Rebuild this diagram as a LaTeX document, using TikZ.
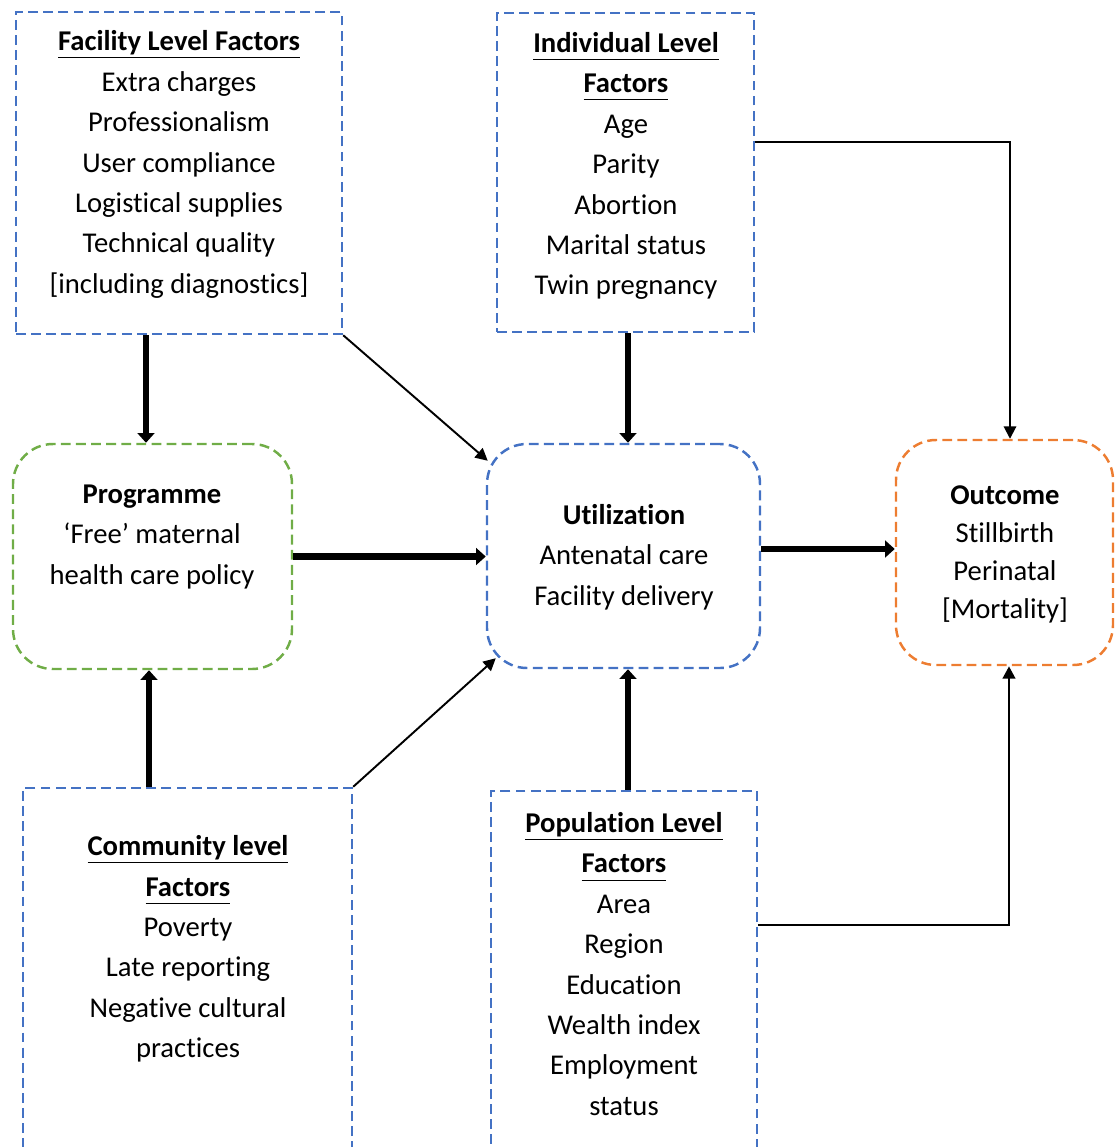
\documentclass[tikz,border=0pt]{standalone}
\usepackage{fontspec}
\setmainfont{Carlito}[Ligatures={NoCommon}]
\usetikzlibrary{arrows.meta,fit,calc}
\definecolor{boxblue}{HTML}{4472C4}
\definecolor{boxgreen}{HTML}{70AD47}
\definecolor{boxorange}{HTML}{ED7D31}
\newcommand\ttl[1]{\textbf{\underline{#1\vphantom{y}}}}
\begin{document}
\begin{tikzpicture}[x=0.02cm,y=-0.02cm,
 dashbox/.style={draw, line width=1.4pt, dash pattern=on 5.6pt off 3pt, inner sep=0pt},
 sqbox/.style={dashbox, draw=boxblue},
 rndbox/.style={dashbox, rounded corners=0.8cm},
 txt/.style={align=center, font=\fontsize{16.3}{23}\selectfont, inner sep=0pt},
 thickarr/.style={line width=3.9pt, -{Triangle[length=5.5pt,width=9.5pt]}},
 thinarr/.style={line width=1.1pt, -{Triangle[length=7pt,width=7pt]}},
]
\useasboundingbox (0,0) rectangle (1118,1147);
\clip (0,0) rectangle (1118,1147);

% boxes
\node[sqbox, fit={(16,12)(342,334)}] (fac) {};
\node[sqbox, fit={(497,13)(754,332)}] (ind) {};
\node[rndbox, draw=boxgreen, fit={(13,444)(292,669)}] (prog) {};
\node[rndbox, draw=boxblue, fit={(487,444)(760,668)}] (util) {};
\node[rndbox, draw=boxorange, fit={(896,440)(1113,665)}] (out) {};
\node[sqbox, fit={(23,788)(352,1200)}] (com) {};
\node[sqbox, fit={(491,791)(757,1200)}] (pop) {};

% texts
\node[txt] (facT) at (179,164.5) {\ttl{Facility Level Factors}\\Extra charges\\Professionalism\\User compliance\\Logistical supplies\\Technical quality\\{[including diagnostics]}};
\node[txt] (indT) at (626,166) {\ttl{Individual Level}\\\ttl{Factors}\\Age\\Parity\\Abortion\\Marital status\\Twin pregnancy};
\node[txt] (progT) at (152,537) {\textbf{Programme}\\‘Free’ maternal\\health care policy};
\node[txt] (utilT) at (624,557) {\textbf{Utilization}\\Antenatal care\\Facility delivery};
\node[txt, font=\fontsize{16.3}{21.6}\selectfont] (outT) at (1005,554) {\textbf{Outcome}\\Stillbirth\\Perinatal\\{[Mortality]}};
\node[txt] (comT) at (188,949) {\ttl{Community level}\\\ttl{Factors}\\Poverty\\Late reporting\\Negative cultural\\practices};
\node[txt] (popT) at (624,964) {\ttl{Population Level}\\\ttl{Factors}\\Area\\Region\\Education\\Wealth index\\Employment\\status};

% connectors
\draw[thickarr] ([xshift=-0.13cm]prog.north |- fac.south) -- ([xshift=-0.13cm]prog.north);
\draw[thinarr] (fac.south east) -- ($(util.north west)+(2,18)$);
\draw[thickarr] ([xshift=0.05cm]ind.south) -- ([xshift=0.05cm]ind.south |- util.north);
\draw[thinarr] ($(ind.east)+(0,-30.5)$) -| ([xshift=0.11cm]out.north);
\draw[thickarr] (prog.east) -- (prog.east -| util.west);
\draw[thickarr] ([yshift=0.07cm]util.east |- out.west) -- ([yshift=0.07cm]out.west);
\draw[thickarr] ([xshift=-0.07cm]prog.south |- com.north) -- ([xshift=-0.07cm]prog.south);
\draw[thinarr] (com.north east) -- ($(util.south west)+(10,-11)$);
\draw[thickarr] ([xshift=0.09cm]util.south |- pop.north) -- ([xshift=0.09cm]util.south);
\draw[thinarr, line width=1.6pt] ($(pop.east)+(0,-70.5)$) -| ([xshift=0.09cm]out.south);
\end{tikzpicture}
\end{document}
